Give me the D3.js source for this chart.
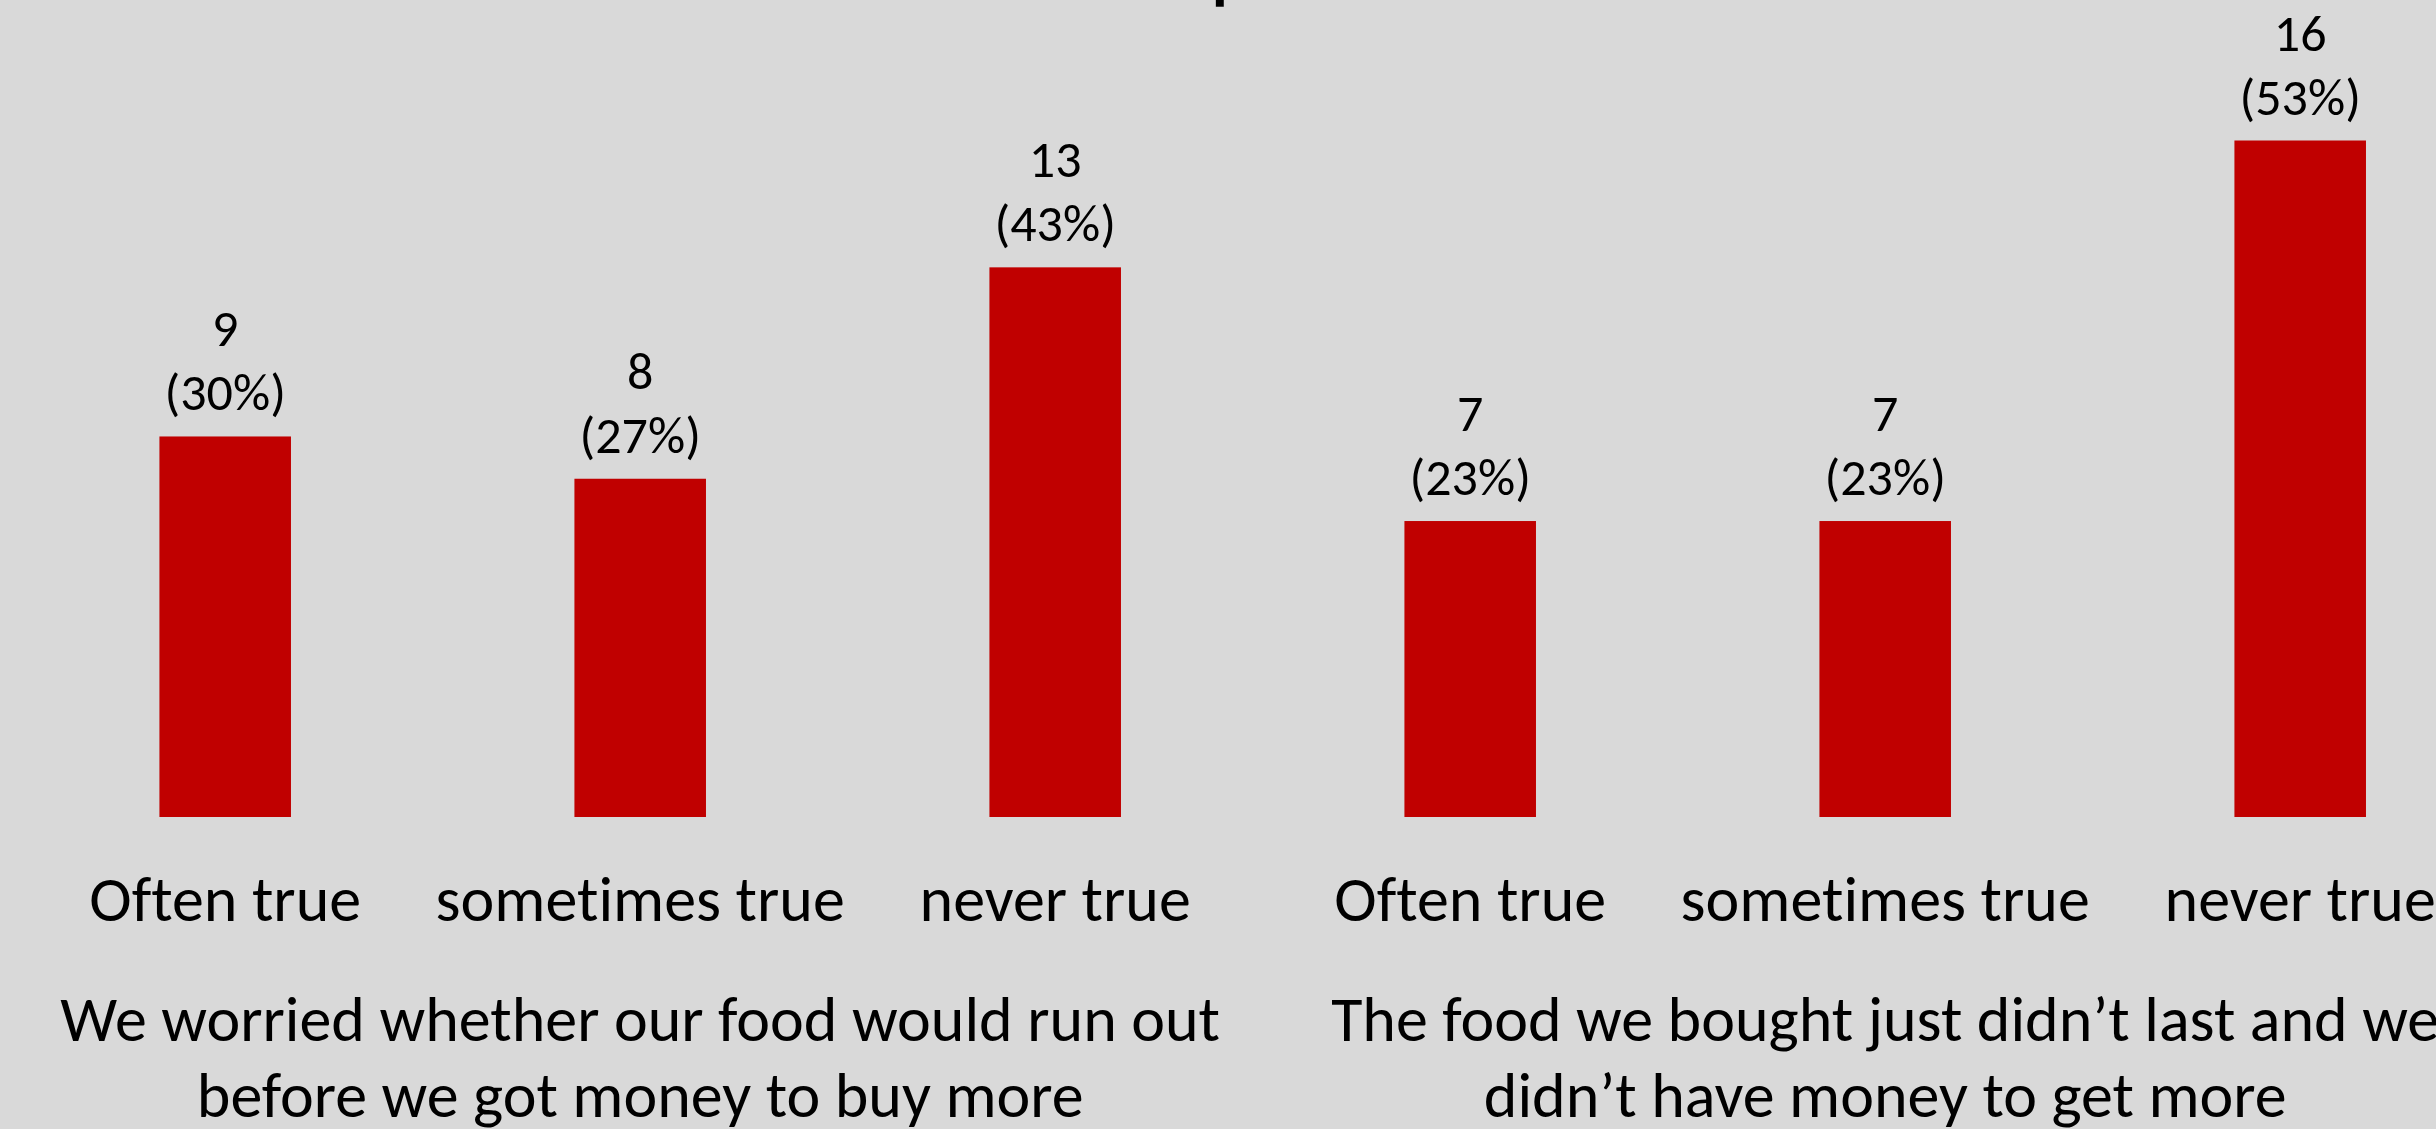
<!DOCTYPE html>
<html>
<head>
<meta charset="utf-8">
<script src="https://cdn.jsdelivr.net/npm/d3@7"></script>
<style>
  html, body { margin: 0; padding: 0; background: #d9d9d9; overflow: hidden; }
  svg { display: block; font-family: Carlito, Lato, sans-serif; font-variant-ligatures: none; }
</style>
</head>
<body>
<div id="app"></div>
<script>
// questions (the two charts side by side)
const questions = [
  ['We worried whether our food would run out', 'before we got money to buy more'],
  ['The food we bought just didn\u2019t last and we', 'didn\u2019t have money to get more']
];
const answers = ['Often true', 'sometimes true', 'never true'];
const counts = [[9, 8, 13], [7, 7, 16]];
const percents = [[30, 27, 43], [23, 23, 53]];

const w = 2436;
const h = 1129;
const baseY = 817;

const svg = d3.select('#app')
  .append('svg')
  .attr('width', w)
  .attr('height', h);

svg.append('rect')
  .attr('width', w)
  .attr('height', h)
  .attr('fill', '#d9d9d9');

// bit of the slide title that pokes in at the top
svg.append('text')
  .attr('x', 1212)
  .attr('y', -3.5)
  .style('font-size', '64px')
  .style('font-weight', 'bold')
  .text('p');

/////////SCALES//////////
const x0 = d3.scaleBand()
  .domain(d3.range(questions.length))
  .range([17.7, 17.7 + 6 * 415]);

const x1 = d3.scaleBand()
  .domain(d3.range(answers.length))
  .range([0, x0.bandwidth()])
  .paddingInner(0.683)
  .paddingOuter(0.3415);

const yScale = d3.scaleLinear()
  .domain([0, 16])
  .range([baseY, 140.5]);

const rows = [];
questions.forEach((q, qi) => {
  answers.forEach((a, ai) => {
    rows.push({ q: qi, a: ai, label: a, count: counts[qi][ai], pct: percents[qi][ai] });
  });
});

const groups = svg.selectAll('g.question')
  .data(questions)
  .enter()
  .append('g')
  .attr('class', 'question')
  .attr('transform', (d, i) => 'translate(' + x0(i) + ',0)');

//////////BARS//////////
groups.selectAll('rect')
  .data((d, i) => rows.filter((r) => r.q === i))
  .enter()
  .append('rect')
  .attr('x', (d) => x1(d.a))
  .attr('y', (d) => yScale(d.count))
  .attr('width', x1.bandwidth())
  .attr('height', (d) => baseY - yScale(d.count))
  .attr('fill', '#c00000');

//////////DATA LABELS//////////
const labels = groups.selectAll('text.value')
  .data((d, i) => rows.filter((r) => r.q === i))
  .enter()
  .append('text')
  .attr('class', 'value')
  .attr('text-anchor', 'middle')
  .style('font-size', '52px');

labels.append('tspan')
  .attr('x', (d) => x1(d.a) + x1.bandwidth() / 2)
  .attr('y', (d) => yScale(d.count) - 90)
  .text((d) => d.count);

labels.append('tspan')
  .attr('x', (d) => x1(d.a) + x1.bandwidth() / 2)
  .attr('y', (d) => yScale(d.count) - 26)
  .text((d) => '(' + d.pct + '%)');

//////////AXIS//////////
groups.each(function () {
  const xAxis = d3.axisBottom(x1)
    .tickSize(0)
    .tickPadding(0)
    .tickFormat((i) => answers[i]);

  const g = d3.select(this).append('g')
    .attr('transform', 'translate(0,' + baseY + ')')
    .call(xAxis);

  g.select('.domain').remove();
  g.selectAll('text')
    .attr('dy', null)
    .attr('y', 103.5)
    .attr('fill', '#000')
    .style('font-size', '64px')
    .style('font-family', 'Carlito, Lato, sans-serif');
});

//////////QUESTION TITLES//////////
groups.append('text')
  .attr('text-anchor', 'middle')
  .style('font-size', '64px')
  .selectAll('tspan')
  .data((d) => d)
  .enter()
  .append('tspan')
  .attr('x', x0.bandwidth() / 2)
  .attr('y', (d, i) => 1041 + i * 76)
  .text((d) => d);
</script>
</body>
</html>
